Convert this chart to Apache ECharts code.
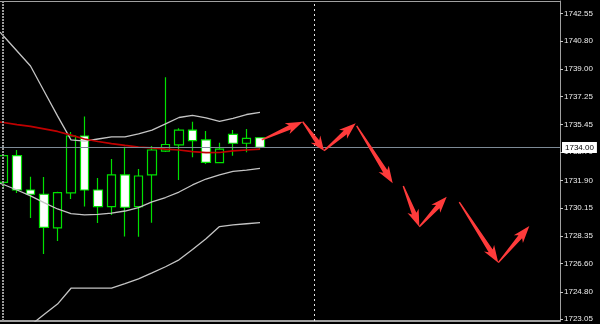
<!DOCTYPE html>
<html>
<head>
<meta charset="utf-8">
<script src="https://cdn.jsdelivr.net/npm/echarts@6/dist/echarts.min.js"></script>
<style>html,body{margin:0;padding:0;background:#000;}#c{width:600px;height:324px;}</style>
</head>
<body>
<div id="c"></div>
<script>
// Candle index (x position in bars)
const candleIndex = [0,1,2,3,4,5,6,7,8,9,10,11,12,13,14,15,16,17,18,19];
const opens  = [1731.78,1733.48,1731.29,1731.02,1728.87,1731.10,1734.73,1731.29,1730.23,1732.25,1730.23,1732.25,1733.77,1734.16,1735.11,1734.48,1733.03,1734.84,1734.27,1734.62];
const closes = [1733.48,1731.29,1731.02,1728.91,1731.12,1734.73,1731.29,1730.23,1732.25,1730.19,1732.18,1733.84,1734.19,1735.11,1734.43,1733.05,1733.90,1734.27,1734.58,1734.01];
const lows   = [1731.50,1731.10,1729.50,1727.21,1728.04,1730.72,1730.23,1729.19,1729.70,1728.33,1728.31,1729.21,1733.71,1731.93,1733.37,1732.95,1732.99,1733.48,1733.69,1733.84];
const highs  = [1733.55,1733.84,1732.14,1732.12,1731.18,1734.99,1735.97,1732.05,1733.27,1734.05,1732.63,1734.09,1738.47,1735.22,1735.64,1735.05,1734.30,1735.11,1735.18,1734.64];

// Indicator lines (start slightly before the first visible bar)
const lineIndex = [-0.26,0,1,2,3,4,5,6,7,8,9,10,11,12,13,14,15,16,17,18,19];
const maRed      = [1735.61,1735.59,1735.46,1735.34,1735.18,1735.02,1734.79,1734.54,1734.38,1734.25,1734.13,1734.03,1733.97,1733.90,1733.84,1733.74,1733.67,1733.68,1733.78,1733.84,1733.90];
const bandUpper  = [1741.35,1741.10,1740.15,1739.19,1737.60,1736.01,1734.48,1734.41,1734.54,1734.67,1734.67,1734.86,1735.11,1735.50,1735.91,1736.04,1735.88,1735.66,1735.85,1736.10,1736.23];
const bandLower  = [1731.72,1731.64,1731.29,1730.91,1730.49,1730.08,1729.79,1729.70,1729.73,1729.82,1729.95,1730.17,1730.53,1730.81,1731.16,1731.61,1731.99,1732.25,1732.47,1732.56,1732.67];
const bandOuterLower = [null,null,null,1722.67,1723.35,1724.02,1725.03,1725.03,1725.03,1725.03,1725.32,1725.63,1726.01,1726.40,1726.84,1727.50,1728.18,1728.96,1729.07,1729.14,1729.21];

// Forecast arrows: [fromIndex, fromPrice, toIndex, toPrice]
const arrowFromX = [19.13,22.16,23.74,26.16,29.61,30.80,33.76,36.65];
const arrowFromY = [1734.48,1735.64,1733.79,1735.37,1731.54,1728.95,1730.51,1726.66];
const arrowToX   = [22.16,23.74,26.09,28.83,30.80,32.83,36.65,38.95];
const arrowToY   = [1735.64,1733.79,1735.54,1731.72,1728.95,1730.86,1726.66,1728.99];

const yTicks = [1723.05,1724.80,1726.60,1728.35,1730.15,1731.90,1733.70,1735.45,1737.25,1739.00,1740.80,1742.55];
const bidPrice = 1734.00;
const separatorIndex = 23;
const leftBorderIndex = -0.052;

const candleData = candleIndex.map((k,i)=>[k, opens[i], closes[i], lows[i], highs[i]]);
const toLine = arr => lineIndex.map((k,i)=>[k, arr[i]]);
const arrowData = arrowFromX.map((x,i)=>[x, arrowFromY[i], arrowToX[i], arrowToY[i]]);

function renderArrow(params, api) {
  const p0 = api.coord([api.value(0), api.value(1)]);
  const p1 = api.coord([api.value(2), api.value(3)]);
  const dx = p1[0]-p0[0], dy = p1[1]-p0[1];
  const len = Math.sqrt(dx*dx+dy*dy);
  const ux = dx/len, uy = dy/len, nx = -uy, ny = ux;
  const hl = Math.min(17, len*0.4), hw = 6, sw = 2.4, tw = 0.7;
  const bx = p1[0]-ux*hl, by = p1[1]-uy*hl;
  const jx = bx+ux*3, jy = by+uy*3;
  const pts = [
    [p0[0]+nx*tw, p0[1]+ny*tw],
    [jx+nx*sw, jy+ny*sw],
    [bx+nx*hw, by+ny*hw],
    [p1[0], p1[1]],
    [bx-nx*hw, by-ny*hw],
    [jx-nx*sw, jy-ny*sw],
    [p0[0]-nx*tw, p0[1]-ny*tw]
  ];
  return {type:'polygon', shape:{points:pts}, style:{fill:'#ff3b3b'}};
}

const chart = echarts.init(document.getElementById('c'), null, {renderer:'canvas'});
const xMin = -0.259, xMax = 41.22;
chart.setOption({
  backgroundColor:'#000',
  animation:false,
  grid:{left:0, right:40, top:1, bottom:3, show:false},
  xAxis:[
    {type:'value', min:xMin, max:xMax, position:'bottom',
     axisLine:{show:true, onZero:false, lineStyle:{color:'#a0a0a0', width:2}},
     axisTick:{show:false}, axisLabel:{show:false}, splitLine:{show:false}},
    {type:'value', min:xMin, max:xMax, position:'top',
     axisLine:{show:true, onZero:false, lineStyle:{color:'#a0a0a0', width:1}},
     axisTick:{show:false}, axisLabel:{show:false}, splitLine:{show:false}}
  ],
  yAxis:{type:'value', position:'right', min:1722.941, max:1743.334, scale:true,
    axisLine:{show:true, onZero:false, lineStyle:{color:'#a0a0a0', width:1}},
    axisTick:{show:true, length:3, customValues:yTicks, lineStyle:{color:'#c8c8c8'}},
    axisLabel:{show:true, customValues:yTicks, margin:4, color:'#ececec', fontSize:8,
      fontFamily:'Liberation Sans', formatter:v=>v.toFixed(2)},
    splitLine:{show:false}},
  series:[
    {type:'line', name:'outer', data:toLine(bandOuterLower), showSymbol:false, symbol:'none',
     lineStyle:{color:'#c4c4c4', width:1.3}, silent:true, connectNulls:false},
    {type:'line', name:'upper', data:toLine(bandUpper), showSymbol:false, symbol:'none',
     lineStyle:{color:'#c4c4c4', width:1.3}, silent:true},
    {type:'line', name:'lower', data:toLine(bandLower), showSymbol:false, symbol:'none',
     lineStyle:{color:'#c4c4c4', width:1.3}, silent:true},
    {type:'candlestick', data:candleData, encode:{x:0, y:[1,2,3,4]}, barWidth:9,
     itemStyle:{color:'#000', color0:'#ffffff', borderColor:'#00e000', borderColor0:'#00e000', borderWidth:1.2}},
    {type:'line', name:'ma', data:toLine(maRed), showSymbol:false, symbol:'none', clip:false,
     lineStyle:{color:'#c00000', width:1.7}, silent:true, z:3,
     markLine:{silent:true, symbol:['none','none'], animation:false,
       data:[
         {xAxis:separatorIndex, lineStyle:{color:'#e6e6e6', type:[2,3], width:1}, label:{show:false}},
         {xAxis:leftBorderIndex, lineStyle:{color:'#9a9a9a', type:[2,1], width:2}, label:{show:false}},
         {yAxis:bidPrice, lineStyle:{color:'#7d8a96', width:1, type:'solid'},
          label:{show:true, position:'end', formatter:bidPrice.toFixed(2), backgroundColor:'#ffffff',
                 color:'#000', fontSize:8, fontFamily:'Liberation Sans', padding:[2,3,1,3], distance:2}}
       ]}},
    {type:'custom', name:'arrows', data:arrowData, encode:{x:[0,2], y:[1,3]},
     renderItem:renderArrow, z:5, silent:true}
  ]
});
</script>
</body>
</html>
